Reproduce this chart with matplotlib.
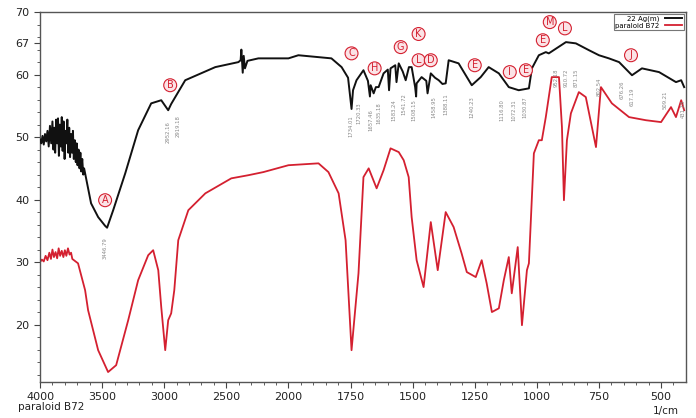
import matplotlib
matplotlib.use('Agg')
import matplotlib.pyplot as plt
import numpy as np
from matplotlib.ticker import FixedLocator

### Spectre échantillon (noir)

wn_ech = [4000, 3990, 3980, 3970, 3960, 3950, 3940, 3930, 3920, 3910, 3900, 3892, 3885,
          3878, 3870, 3862, 3855, 3848, 3840, 3832, 3825, 3818, 3810, 3802, 3795, 3788,
          3780, 3772, 3765, 3758, 3750, 3742, 3735, 3728, 3720, 3712, 3705, 3698, 3690,
          3682, 3675, 3668, 3660, 3652, 3645,
          3620, 3589, 3532, 3476, 3460, 3411, 3314, 3210, 3105, 3024, 2968, 2944, 2911,
          2831, 2589, 2403, 2385, 2379, 2368, 2360, 2350, 2330, 2242, 2000, 1960, 1827,
          1786, 1760, 1750, 1746, 1740, 1726, 1698, 1680, 1672, 1669, 1657, 1648, 1637,
          1617, 1600, 1595, 1589, 1570, 1565, 1556, 1540, 1528, 1515, 1504, 1490, 1486,
          1484, 1464, 1445, 1440, 1427, 1410, 1395, 1380, 1367, 1355, 1315, 1274, 1262,
          1226, 1194, 1153, 1113, 1073, 1032, 1020, 992, 964, 952, 883, 843, 790, 750,
          710, 669, 617, 577, 508, 440, 419, 407]
t_ech = [49.6, 49.0, 50.2, 48.8, 50.5, 49.3, 51.0, 48.5, 51.8, 49.0, 52.5, 48.0, 51.5,
         47.5, 52.8, 49.0, 53.0, 47.0, 52.0, 48.5, 53.2, 47.8, 52.5, 46.5, 51.0, 49.0,
         52.8, 47.5, 51.5, 46.8, 50.5, 47.5, 51.0, 46.5, 49.5, 46.0, 49.0, 45.5, 48.0,
         45.0, 47.5, 44.5, 46.5, 44.0, 45.0,
         42.5, 39.4, 37.2, 35.8, 35.5, 38.3, 44.2, 51.1, 55.4, 55.9, 54.3, 55.3, 56.4,
         59.1, 61.2, 62.0, 62.3, 64.0, 60.3, 63.0, 61.0, 62.2, 62.6, 62.6, 63.1, 62.6,
         61.2, 59.5, 56.0, 54.5, 57.5, 59.1, 60.7, 59.0, 56.5, 58.3, 57.0, 58.0, 58.0,
         60.2, 60.8, 57.5, 61.0, 61.5, 58.8, 61.8, 60.5, 59.1, 61.2, 61.2, 58.0, 56.5,
         58.6, 59.6, 59.0, 57.0, 60.2, 59.5, 59.1, 58.5, 58.6, 62.3, 61.8, 59.1, 58.3,
         59.6, 61.2, 60.2, 58.0, 57.5, 57.8, 61.0, 63.1, 63.6, 63.4, 65.2, 65.0, 63.9, 63.1,
         62.6, 62.0, 59.9, 61.0, 60.4, 58.8, 59.1, 58.0]

### Spectre paraloid B72 (rouge)

wn_ref = [4000, 3985, 3970, 3955, 3940, 3925, 3912, 3900, 3888, 3875, 3862, 3850, 3838,
          3825, 3812, 3800, 3788, 3775, 3762, 3750, 3740, 3694, 3637, 3613, 3532, 3452,
          3387, 3290, 3210, 3129, 3089, 3048, 3024, 2992, 2968, 2944, 2919, 2887, 2806,
          2669, 2460, 2323, 2202, 2000, 1879, 1839, 1798, 1770, 1746, 1718, 1698, 1677,
          1645, 1617, 1589, 1556, 1536, 1516, 1504, 1484, 1456, 1427, 1399, 1367, 1335,
          1303, 1282, 1246, 1222, 1202, 1181, 1153, 1133, 1113, 1101, 1077, 1060, 1040,
          1032, 1012, 992, 980, 964, 940, 911, 899, 891, 879, 863, 831, 803, 762, 742,
          698, 629, 561, 500, 460, 440, 419, 407]
t_ref = [30.0, 30.4, 30.1, 31.0, 30.3, 31.5, 30.5, 32.0, 30.8, 31.6, 30.6, 32.2, 31.0,
         31.8, 30.8, 31.9, 31.0, 32.2, 31.2, 31.5, 30.5, 29.8, 25.5, 22.3, 15.9, 12.4,
         13.5, 20.7, 27.1, 31.1, 31.9, 28.7, 22.8, 15.9, 20.7, 21.8, 25.5, 33.5, 38.3,
         41.0, 43.4, 43.9, 44.4, 45.5, 45.8, 44.4, 41.0, 33.5, 15.9, 28.2, 43.6, 45.0,
         41.8, 44.7, 48.2, 47.6, 46.3, 43.6, 37.2, 30.3, 26.0, 36.4, 28.7, 38.0, 35.6,
         31.4, 28.4, 27.6, 30.3, 26.6, 22.0, 22.6, 27.1, 30.8, 25.0, 32.4, 19.9, 28.7,
         29.8, 47.4, 49.5, 49.5, 53.2, 59.6, 59.6, 51.6, 39.9, 49.5, 53.8, 57.2, 56.4,
         48.4, 58.0, 55.4, 53.2, 52.7, 52.4, 54.8, 53.2, 55.9, 54.3]

### Lettres des bandes

lettres = ['A', 'B', 'C', 'H', 'G', 'K', 'L', 'D', 'E', 'I', 'E', 'E', 'M', 'L', 'J']
wn_lettres = [3476, 2952, 1746, 1653, 1548, 1476, 1476, 1427, 1250, 1109, 1044, 976, 948, 887, 621]
t_lettres = [39.9, 58.3, 63.4, 61.0, 64.4, 66.5, 62.3, 62.3, 61.5, 60.4, 60.7, 65.5, 68.4, 67.4, 63.1]

### Valeurs des pics (petits textes verticaux)

pics = ['3446.79', '2952.16', '2919.18', '1734.01', '1720.33', '1657.46', '1635.18',
        '1583.24', '1541.72', '1508.15', '1458.95', '1388.11', '1240.23', '1116.80',
        '1072.31', '1030.87', '952.18', '910.72', '871.15', '802.54', '676.26', '617.19',
        '509.21', '431.18']
wn_pics = [3476, 2968, 2890, 1750, 1718, 1669, 1637, 1577, 1536, 1496, 1415, 1367, 1262,
           1141, 1093, 1048, 923, 883, 843, 750, 657, 617, 484, 412]
t_pics = [34.0, 52.5, 53.5, 53.5, 55.5, 54.5, 55.5, 56.0, 57.0, 56.0, 56.5, 57.0, 56.5,
          56.0, 56.0, 56.5, 61.0, 61.0, 61.0, 59.5, 59.0, 58.0, 57.5, 56.0]

### Axe x à double échelle (Shimadzu)

def fwd(x):
    x = np.asarray(x, float)
    return np.where(x <= 2000, 2 * x, x + 2000)

def inv(t):
    t = np.asarray(t, float)
    return np.where(t <= 4000, t / 2, t - 2000)

fig = plt.figure(figsize=(6.96, 4.18), dpi=100)
ax = fig.add_axes([0.0575, 0.086, 0.928, 0.885])
ax.set_xscale('function', functions=(fwd, inv))

ax.plot(wn_ref, t_ref, color='#d42030', lw=1.3, label='paraloid B72', zorder=2)
ax.plot(wn_ech, t_ech, color='#111111', lw=1.4, label='22 Ag(m)', zorder=3)

for s, w, t in zip(pics, wn_pics, t_pics):
    ax.text(w, t, s, rotation=90, fontsize=3.8, color='#888888', ha='center', va='top', zorder=4)

for s, w, t in zip(lettres, wn_lettres, t_lettres):
    ax.text(w, t, s, fontsize=7, color='#d42030', ha='center', va='center', zorder=5,
            bbox=dict(boxstyle='circle,pad=0.15', fc='#fbe3e6', ec='#d42030', lw=0.8))

ax.set_xlim(4000, 400)
ax.set_ylim(10.8, 70)

ax.xaxis.set_major_locator(FixedLocator([4000, 3500, 3000, 2500, 2000, 1750, 1500, 1250, 1000, 750, 500]))
ax.xaxis.set_minor_locator(FixedLocator(list(range(3900, 2000, -100)) + list(range(1950, 400, -50))))
ax.set_xticklabels(['4000', '3500', '3000', '2500', '2000', '1750', '1500', '1250', '1000', '750', '500'])
ax.yaxis.set_major_locator(FixedLocator([20, 30, 40, 50, 60, 65, 70]))
ax.yaxis.set_minor_locator(FixedLocator(list(range(12, 70, 2))))
ax.set_yticklabels(['20', '30', '40', '50', '60', '67', '70'])

ax.tick_params(which='both', labelsize=8, colors='#444444', labelcolor='#222222')
ax.tick_params(which='major', length=4)
ax.tick_params(which='minor', length=2)
for sp in ax.spines.values():
    sp.set_color('#555555')
    sp.set_linewidth(1.0)

leg = ax.legend(handles=ax.get_lines()[::-1], loc='upper right', fontsize=5, markerfirst=False,
                frameon=True, fancybox=False, borderpad=0.2, labelspacing=0.1,
                handlelength=2.5, borderaxespad=0.3)
leg.get_frame().set_edgecolor('#555555')
leg.get_frame().set_linewidth(0.8)

fig.text(0.026, 0.018, 'paraloid B72', fontsize=7.5, color='#222222')
fig.text(0.975, 0.01, '1/cm', fontsize=7.5, color='#222222', ha='right')

fig.savefig('out.png', dpi=100)
